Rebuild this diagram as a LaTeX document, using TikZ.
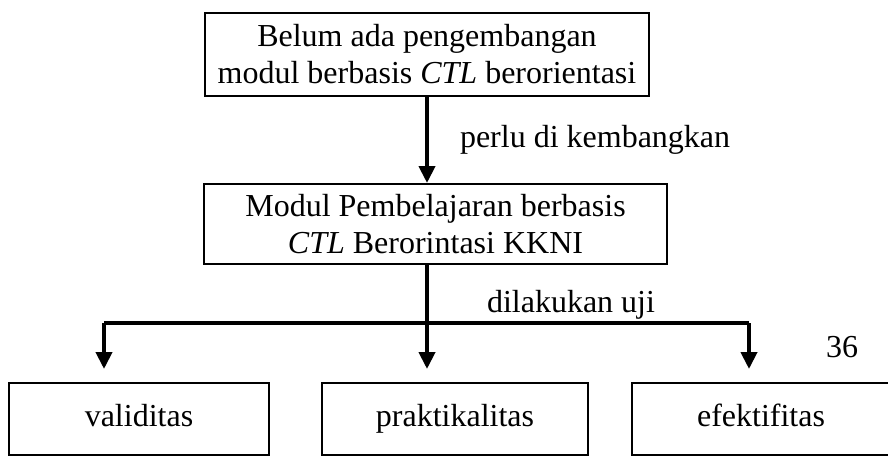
\documentclass[tikz,border=0pt]{standalone}
\usepackage{fontspec}
\setmainfont{Liberation Serif}
\usetikzlibrary{arrows.meta, positioning}

\begin{document}
\begin{tikzpicture}[
    font=\fontsize{16}{18.5}\selectfont,
    box/.style={rectangle, draw, line width=1pt, inner sep=0pt, align=center},
    testbox/.style={box, minimum height=36pt, text height=11pt, text depth=3.5pt},
    arrow/.style={-{Triangle[length=8.5pt,width=8pt]}, line width=2pt},
    branch/.style={line width=2pt},
    note/.style={inner sep=0pt}
]
\useasboundingbox (0,0) rectangle (444pt,-228pt);

% Nodes
\node[box, minimum width=222pt, minimum height=41.5pt] (need) at (213.5pt,-27.25pt)
    {Belum ada pengembangan\\modul berbasis \textit{CTL} berorientasi};
\node[box, minimum width=231.5pt, minimum height=40pt, below=43pt of need, xshift=4.25pt] (modul)
    {Modul Pembelajaran berbasis\\\textit{CTL} Berorintasi KKNI};
\node[testbox, minimum width=130pt] (valid) at (69.5pt,-209.5pt) {validitas};
\node[testbox, minimum width=133pt, right=25.5pt of valid] (praktis) {praktikalitas};
\node[testbox, minimum width=129pt, right=21pt of praktis] (efektif) {efektifitas};

% Branch points
\path (need.south |- modul.south) ++(0,-30.5pt) coordinate (split);
\coordinate (left) at (52pt,-161.5pt);
\coordinate (right) at (374.5pt,-161.5pt);

% Arrows
\draw[arrow] (need.south) -- node[note, midway, right=15.5pt] {perlu di kembangkan} (need.south |- modul.north);
\draw[branch] (need.south |- modul.south) -- (split);
\draw[branch] (left) -- node[note, pos=0.724, above=1pt] {dilakukan uji} (right);
\draw[arrow, shorten >=6.5pt] (left) -- (left |- valid.north);
\draw[arrow, shorten >=6.5pt] (split) -- (split |- praktis.north);
\draw[arrow, shorten >=6.5pt] (right) -- (right |- efektif.north);

% Page number
\node[note] (page) at (421pt,-173.5pt) {36};
\end{tikzpicture}
\end{document}
